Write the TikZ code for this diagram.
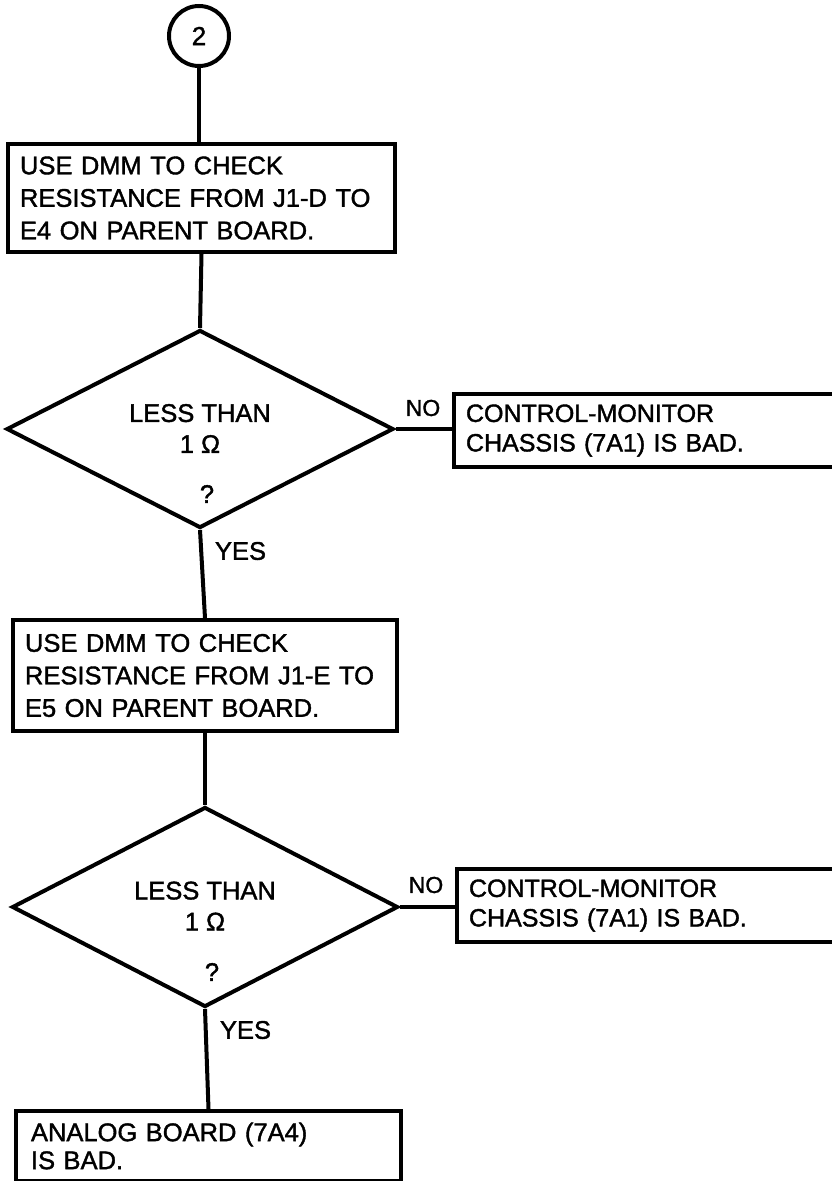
\documentclass[tikz,border=0pt]{standalone}
\usepackage{fontspec}
\setmainfont{Liberation Sans}[FakeBold=1.5]
\usetikzlibrary{shapes.geometric}

\begin{document}
\begin{tikzpicture}[x=1pt,y=-1pt,
  line width=4pt,
  stepbox/.style={draw, rectangle, align=left, inner xsep=12pt, inner ysep=0pt,
    anchor=north west, font=\fontsize{25.5}{32.5}\selectfont},
  decision/.style={draw, diamond, inner sep=0pt},
  connector/.style={draw, circle, inner sep=0pt, minimum size=60pt,
    font=\fontsize{26}{30}\selectfont},
  wire/.style={line width=4pt},
  lbl/.style={inner sep=0pt, font=\fontsize{25.5}{31}\selectfont},
  branch/.style={inner sep=0pt, font=\fontsize{23}{26}\selectfont},
]
\useasboundingbox (0,0) rectangle (832,1181);
\clip (0,0) rectangle (832,1181);

% entry connector
\node[connector] (start) at (199,36) {2};

% first resistance check
\node[stepbox, minimum width=387pt, minimum height=108pt, text width=363pt]
  (b1) at (6,142) {USE DMM TO CHECK\\RESISTANCE FROM J1-D TO\\E4 ON PARENT BOARD.};

\node[decision, minimum width=387pt, minimum height=198pt] (d1) at (200,429) {};
\node[lbl, align=center] (d1t) at (200,428.5) {LESS THAN\\1 Ω};
\node[lbl] (d1q) at (207,494) {?};

\node[stepbox, minimum width=460pt, minimum height=73pt, text width=436pt,
  font=\fontsize{25}{29.5}\selectfont]
  (r1) at (452,392) {CONTROL-MONITOR\\CHASSIS (7A1) IS BAD.};

% second resistance check
\node[stepbox, minimum width=384pt, minimum height=111pt, text width=360pt]
  (b2) at (11,618) {USE DMM TO CHECK\\RESISTANCE FROM J1-E TO\\E5 ON PARENT BOARD.};

\node[decision, minimum width=386pt, minimum height=200pt] (d2) at (205,907) {};
\node[lbl, align=center] (d2t) at (205,906) {LESS THAN\\1 Ω};
\node[lbl] (d2q) at (212,972) {?};

\node[stepbox, minimum width=460pt, minimum height=73pt, text width=436pt,
  font=\fontsize{25}{29.5}\selectfont]
  (r2) at (455,867) {CONTROL-MONITOR\\CHASSIS (7A1) IS BAD.};

% final result
\node[stepbox, minimum width=385pt, minimum height=70pt, text width=355pt,
  inner xsep=15pt, font=\fontsize{25.5}{28}\selectfont]
  (b3) at (14,1109) {ANALOG BOARD (7A4)\\IS BAD.};

% flow lines
\draw[wire] (start.south) -- (start.south |- b1.north);
\draw[wire] (b1.south) -- (d1.north);
\draw[wire] (d1.south) -- (b2.north);
\draw[wire] (b2.south) -- (d2.north);
\draw[wire] (d2.south) -- (b3.north);
\draw[wire] (d1.east) -- (d1.east -| r1.west);
\draw[wire] (d2.east) -- (d2.east -| r2.west);

% branch labels
\node[lbl, anchor=west] (y1) at (213,551) {YES};
\node[lbl, anchor=west] (y2) at (218,1030) {YES};
\node[branch] (n1) at (423,408) {NO};
\node[branch] (n2) at (426,885) {NO};
\end{tikzpicture}
\end{document}
